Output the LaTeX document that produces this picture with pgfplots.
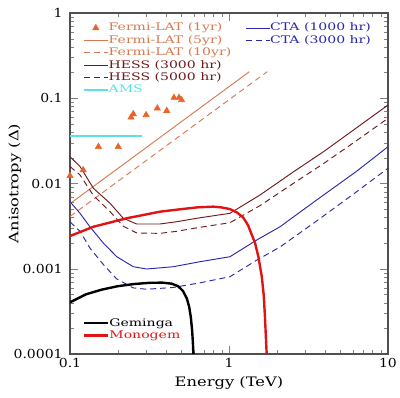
\documentclass[border=0pt]{standalone}
\usepackage{fontspec}
\setmainfont{DejaVu Serif}[FakeStretch=1.13]
\newfontfamily\legfont{DejaVu Serif}[FakeStretch=1.35]
\newfontfamily\labfont{DejaVu Serif}[FakeStretch=1.25]
\usepackage{pgfplots}
\pgfplotsset{compat=1.18}
\definecolor{fermiTri}{RGB}{232,100,40}
\definecolor{fermiLine}{RGB}{215,120,80}
\definecolor{hess}{RGB}{110,25,25}
\definecolor{ams}{RGB}{90,225,230}
\definecolor{cta}{RGB}{40,40,170}
\definecolor{monogem}{RGB}{225,20,20}
\definecolor{axgray}{RGB}{80,80,80}
\tikzset{dsh/.style={dash pattern=on 4.5pt off 3pt}}
\pgfplotsset{
  legend cell align=left,
  legend style={draw=none, fill=none, inner sep=0pt,
    font=\legfont\fontsize{7.8}{8}\selectfont, row sep=0pt,
    nodes={inner sep=0pt, text height=6.8pt, text depth=2.5pt},
    every odd column/.append style={column sep=2.5pt}},
  legend image code/.code={\draw[mark repeat=2,mark phase=2,#1] plot coordinates {(0pt,0pt) (9pt,0pt) (18pt,0pt)};},
}
\begin{document}
\begin{tikzpicture}
\useasboundingbox (-52.5pt,-33pt) rectangle (247.5pt,265.5pt);
\begin{loglogaxis}[at={(0,0)}, anchor=south west,
  scale only axis, width=238.5pt, height=255.75pt,
  xmin=0.1, xmax=10, ymin=1e-4, ymax=1,
  axis line style={axgray, line width=0.8pt},
  major tick length=6pt, minor tick length=3pt,
  xtick={0.1,1,10}, xticklabels={0.1,1,10},
  ytick={1e-4,1e-3,1e-2,0.1,1}, yticklabels={0.0001,0.001,0.01,0.1,1},
  tick label style={font=\fontsize{9.3}{11}\selectfont},
  yticklabel style={xshift=-2pt},
  xlabel={Energy (TeV)}, ylabel={Anisotropy (Δ)},
  label style={font=\labfont\fontsize{9.8}{11}\selectfont},
  xlabel style={at={(axis description cs:0.5,-0.085)}, anchor=center},
  ylabel style={at={(axis description cs:-0.173,0.5)}, anchor=center},
  legend style={at={(0.04,0.975)}, anchor=north west},
]
\addplot[only marks, mark=triangle*, mark size=2.7pt, color=fermiTri] coordinates {
(0.100,0.0123) (0.121,0.0144) (0.151,0.027) (0.201,0.027) (0.242,0.0597) (0.250,0.0653)
(0.301,0.0637) (0.354,0.0762) (0.406,0.0714) (0.451,0.1016) (0.485,0.1016) (0.503,0.0955)};
\addlegendentry{\textcolor{fermiLine}{Fermi-LAT (1yr)}}
\addplot[fermiLine, line width=0.7pt] coordinates {(0.1,0.0058) (1.343,0.205)};
\addlegendentry{\textcolor{fermiLine}{Fermi-LAT (5yr)}}
\addplot[fermiLine, line width=0.7pt, dsh] coordinates {(0.1,0.0041) (1.74,0.205)};
\addlegendentry{\textcolor{fermiLine}{Fermi-LAT (10yr)}}
\addplot[hess, line width=0.7pt] coordinates {
(0.1,0.0206) (0.1156,0.01585) (0.1403,0.00879) (0.1786,0.00586) (0.2163,0.00391) (0.2624,0.00335)
(0.3681,0.00335) (0.4688,0.00356) (0.6266,0.00391) (1.014,0.00447) (1.567,0.00733) (2.512,0.01349)
(3.981,0.0240) (6.31,0.0447) (10,0.0832)};
\addlegendentry{\textcolor{hess}{HESS (3000 hr)}}
\addplot[hess, line width=0.7pt, dsh] coordinates {
(0.1,0.0158) (0.1156,0.0126) (0.1403,0.00724) (0.1786,0.00468) (0.2163,0.00316) (0.2624,0.00263)
(0.3681,0.0026) (0.4688,0.00275) (0.6266,0.00302) (1.014,0.00347) (1.567,0.0055) (2.512,0.00989)
(3.981,0.0174) (6.31,0.0316) (10,0.0582)};
\addlegendentry{\textcolor{hess}{HESS (5000 hr)}}
\addplot[ams, line width=1.3pt] coordinates {(0.1,0.0364) (0.282,0.0364)};
\addlegendentry{\textcolor{ams}{AMS}}
\end{loglogaxis}
\begin{loglogaxis}[at={(0,0)}, anchor=south west,
  scale only axis, width=238.5pt, height=255.75pt,
  xmin=0.1, xmax=10, ymin=1e-4, ymax=1, hide axis,
  legend style={at={(0.55,0.975)}, anchor=north west}]
\addplot[cta, line width=0.7pt] coordinates {
(0.1,0.00612) (0.1156,0.00447) (0.1337,0.00309) (0.1622,0.002) (0.1968,0.001384) (0.25,0.001057)
(0.3034,0.000993) (0.4467,0.001057) (0.6577,0.00121) (1.014,0.001384) (1.493,0.00217) (2.094,0.00311)
(3.556,0.0064) (6.31,0.0138) (10,0.0270)};
\addlegendentry{\textcolor{cta}{CTA (1000 hr)}}
\addplot[cta, line width=0.7pt, dsh] coordinates {
(0.1,0.00355) (0.1156,0.00275) (0.1337,0.00174) (0.1622,0.00112) (0.1968,0.000759) (0.25,0.000596)
(0.3034,0.000575) (0.4467,0.000603) (0.6577,0.000684) (1.014,0.000807) (1.493,0.00126) (2.094,0.0018)
(3.556,0.00363) (6.31,0.00794) (10,0.0151)};
\addlegendentry{\textcolor{cta}{CTA (3000 hr)}}
\end{loglogaxis}
\begin{loglogaxis}[at={(0,0)}, anchor=south west,
  scale only axis, width=238.5pt, height=255.75pt,
  xmin=0.1, xmax=10, ymin=1e-4, ymax=1, hide axis,
  legend style={at={(0.04,0.035)}, anchor=south west}]
\addplot[black, line width=1.8pt] coordinates {
(0.1,0.000404) (0.1259,0.000501) (0.1585,0.000569) (0.1995,0.000624) (0.2512,0.000661) (0.3162,0.000684)
(0.3802,0.000687) (0.4365,0.000668) (0.4786,0.000624) (0.5129,0.00055) (0.5433,0.000447) (0.5623,0.000355)
(0.5754,0.000269) (0.5861,0.000191) (0.5929,0.000135) (0.597,0.0001) (0.6,0.0000794)};
\addlegendentry{Geminga}
\addplot[monogem, line width=1.8pt] coordinates {
(0.1,0.00242) (0.1403,0.00311) (0.2275,0.00391) (0.3681,0.00467) (0.492,0.00498) (0.631,0.00525)
(0.796,0.00535) (0.891,0.00525) (1.014,0.00501) (1.122,0.00457) (1.230,0.00398) (1.318,0.00324)
(1.390,0.00251) (1.459,0.002) (1.531,0.00138) (1.607,0.000813) (1.652,0.000501) (1.683,0.000275)
(1.706,0.000158) (1.726,0.0001) (1.734,0.0000794)};
\addlegendentry{\textcolor{monogem}{Monogem}}
\end{loglogaxis}
\end{tikzpicture}
\end{document}
